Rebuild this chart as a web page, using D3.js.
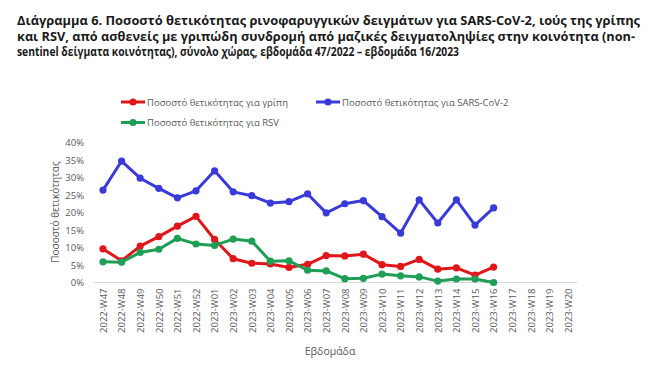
<!DOCTYPE html>
<html><head><meta charset="utf-8">
<script src="https://cdn.jsdelivr.net/npm/d3@7"></script>
<style>
body{margin:0;background:#fff;}
svg{display:block;font-family:"Open Sans","Noto Sans",sans-serif;}
</style></head>
<body><svg id="c" width="650" height="365"></svg>
<script>
const weeks = ["2022-W47","2022-W48","2022-W49","2022-W50","2022-W51","2022-W52","2023-W01","2023-W02","2023-W03","2023-W04","2023-W05","2023-W06","2023-W07","2023-W08","2023-W09","2023-W10","2023-W11","2023-W12","2023-W13","2023-W14","2023-W15","2023-W16","2023-W17","2023-W18","2023-W19","2023-W20"];
const fluValues = [9.6,6.2,10.4,13.1,16.1,18.9,12.3,6.8,5.5,5.3,4.3,5.2,7.7,7.6,8.1,5.1,4.6,6.6,3.8,4.2,2.1,4.4];
const covidValues = [26.4,34.7,29.8,26.9,24.2,26.2,31.9,25.9,24.8,22.7,23.1,25.3,19.9,22.5,23.4,18.8,14.1,23.6,17.0,23.6,16.4,21.3];
const rsvValues = [5.9,5.8,8.6,9.5,12.6,11.0,10.6,12.4,11.8,6.1,6.2,3.5,3.3,1.1,1.2,2.4,1.9,1.6,0.4,1.0,1.0,0.0];
const yTicks = [0,5,10,15,20,25,30,35,40];
const titleLines = [
 "Διάγραμμα 6. Ποσοστό θετικότητας ρινοφαρυγγικών δειγμάτων για SARS-CoV-2, ιούς της γρίπης",
 "και RSV, από ασθενείς με γριπώδη συνδρομή από μαζικές δειγματοληψίες στην κοινότητα (non-",
 "sentinel δείγματα κοινότητας), σύνολο χώρας, εβδομάδα 47/2022 – εβδομάδα 16/2023"];
const seriesNames = ["Ποσοστό θετικότητας για γρίπη","Ποσοστό θετικότητας για SARS-CoV-2","Ποσοστό θετικότητας για RSV"];
const yTitle = "Ποσοστό θετικότητας";
const xTitle = "Εβδομάδα";

const colors = ["#e0161b","#3a3ad8","#1f9e55"];
const svg = d3.select("#c");

// title
const titleW = [623, 618, 442];
titleLines.forEach((t,i)=>{
  svg.append("text").attr("x",17).attr("y",25+i*15.5)
    .attr("font-size",12.5).attr("font-weight","bold").attr("fill","#1a1a1a")
    .attr("textLength",titleW[i]).attr("lengthAdjust","spacingAndGlyphs").text(t);
});

const x = d3.scalePoint().domain(weeks).range([103,568]);
const y = d3.scaleLinear().domain([0,40]).range([282.5,142.5]);

// y axis ticks
const ya = svg.append("g").attr("transform","translate(94,0)")
  .call(d3.axisLeft(y).tickValues(yTicks).tickSize(0).tickPadding(10).tickFormat(d=>d+"%"));
ya.select(".domain").remove();
ya.selectAll("text").attr("fill","#595959").attr("font-size",9.5).attr("font-family","'Open Sans',sans-serif");

// baseline
svg.append("line").attr("x1",94).attr("x2",577).attr("y1",y(0)).attr("y2",y(0)).attr("stroke","#d9d9d9").attr("stroke-width",1);

// x axis
const xa = svg.append("g").attr("transform",`translate(0,${y(0)})`)
  .call(d3.axisBottom(x).tickSize(0).tickPadding(0));
xa.select(".domain").remove();
xa.selectAll("text").attr("fill","#595959").attr("font-size",9.5).attr("font-family","'Open Sans',sans-serif")
  .attr("transform","rotate(-90)").attr("text-anchor","end").attr("dx","-6").attr("dy","0.35em").attr("y",0).attr("x",0);

// axis titles
svg.append("text").attr("transform","translate(59,212) rotate(-90)").attr("text-anchor","middle")
  .attr("font-size",10).attr("fill","#595959").text(yTitle);
svg.append("text").attr("x",330).attr("y",355).attr("text-anchor","middle")
  .attr("font-size",10.5).attr("fill","#595959").text(xTitle);

// series
const data = [fluValues, covidValues, rsvValues];
const line = d3.line().x((d,i)=>x(weeks[i])).y(d=>y(d));
data.forEach((vals,k)=>{
  svg.append("path").datum(vals).attr("d",line).attr("fill","none")
    .attr("stroke",colors[k]).attr("stroke-width",3).attr("stroke-linejoin","round");
  svg.append("g").selectAll("circle").data(vals).join("circle")
    .attr("cx",(d,i)=>x(weeks[i])).attr("cy",d=>y(d)).attr("r",3.6).attr("fill",colors[k]);
});

// legend
const legPos = [[121,102],[316,102],[121,122.5]];
seriesNames.forEach((n,k)=>{
  const [lx,ly] = legPos[k];
  svg.append("line").attr("x1",lx).attr("x2",lx+24).attr("y1",ly).attr("y2",ly).attr("stroke",colors[k]).attr("stroke-width",3);
  svg.append("circle").attr("cx",lx+12).attr("cy",ly).attr("r",3.6).attr("fill",colors[k]);
  svg.append("text").attr("x",lx+26).attr("y",ly+3.5).attr("font-size",9.5).attr("fill","#595959").text(n);
});
</script></body></html>
